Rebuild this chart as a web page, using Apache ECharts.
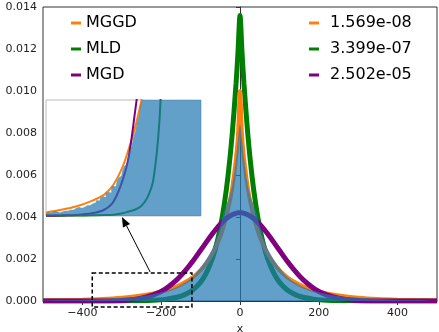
<!DOCTYPE html>
<html>
<head>
<meta charset="utf-8">
<script src="https://cdn.jsdelivr.net/npm/echarts@6/dist/echarts.min.js"></script>
<style>
  html, body { margin: 0; padding: 0; background: #fff; }
  #container { width: 439px; height: 332px; }
</style>
</head>
<body>
<div id="container"></div>
<script>
// sample positions along x for the fitted curves and the histogram outline
var xs = [-500, -450, -400, -350, -300, -260, -220, -190, -160, -140, -120, -100, -85, -70, -60, -50, -40, -30, -20, -10, -5,
          0, 5, 10, 20, 30, 40, 50, 60, 70, 85, 100, 120, 140, 160, 190, 220, 260, 300, 350, 400, 450, 500];

var mggd = [0.000027, 0.000041, 0.000064, 0.0001, 0.00016, 0.00024, 0.00036, 0.0005, 0.0007, 0.00089, 0.00113, 0.00147, 0.00181, 0.00225, 0.00262, 0.00307, 0.00365, 0.00438, 0.00537, 0.00682, 0.0079,
            0.01, 0.0079, 0.00682, 0.00537, 0.00438, 0.00365, 0.00307, 0.00262, 0.00225, 0.00181, 0.00147, 0.00113, 0.00089, 0.0007, 0.0005, 0.00036, 0.00024, 0.00016, 0.0001, 0.000064, 0.000041, 0.000027];

var mld = [0, 0, 0.0000003, 0.000001, 0.000004, 0.000012, 0.000034, 0.000078, 0.000176, 0.000303, 0.00052, 0.0009, 0.00135, 0.00203, 0.00266, 0.0035, 0.00459, 0.00602, 0.0079, 0.01036, 0.01187,
           0.0136, 0.01187, 0.01036, 0.0079, 0.00602, 0.00459, 0.0035, 0.00266, 0.00203, 0.00135, 0.0009, 0.00052, 0.000303, 0.000176, 0.000078, 0.000034, 0.000012, 0.000004, 0.000001, 0.0000003, 0, 0];

var mgd = [0, 0.0000001, 0.0000006, 0.0000047, 0.000029, 0.000099, 0.000288, 0.000568, 0.001017, 0.001418, 0.001891, 0.002414, 0.002814, 0.003201, 0.003441, 0.003657, 0.003844, 0.003996, 0.004108, 0.004177, 0.004199,
           0.0042, 0.004199, 0.004177, 0.004108, 0.003996, 0.003844, 0.003657, 0.003441, 0.003201, 0.002814, 0.002414, 0.001891, 0.001418, 0.001017, 0.000568, 0.000288, 0.000099, 0.000029, 0.0000047, 0.0000006, 0.0000001, 0];

var hist = [0.00002, 0.00003, 0.00005, 0.00009, 0.00015, 0.00022, 0.00032, 0.00046, 0.00067, 0.00087, 0.00116, 0.0016, 0.002, 0.0025, 0.003, 0.0036, 0.0043, 0.0048, 0.0055, 0.0068, 0.0077,
            0.0084, 0.0077, 0.0068, 0.0055, 0.0048, 0.0043, 0.0036, 0.003, 0.0025, 0.002, 0.0016, 0.00116, 0.00087, 0.00067, 0.00046, 0.00032, 0.00022, 0.00015, 0.00009, 0.00005, 0.00003, 0.00002];

// inset (zoom on the left tail)
var insetX    = [-375, -350, -325, -300, -280, -265, -250, -240, -230, -220, -210, -200, -190, -180, -160, -140, -122];
var insetMGGD = [0.00004, 0.00007, 0.00011, 0.00017, 0.00024, 0.00035, 0.00055, 0.00075, 0.00098, 0.00127, 0.0016, 0.002, 0.0025, 0.003, 0.004, 0.005, 0.006];
var insetMLD  = [0.000003, 0.000004, 0.000006, 0.000008, 0.00001, 0.000015, 0.00003, 0.00005, 0.00007, 0.00011, 0.0002, 0.0004, 0.00105, 0.0025, 0.004, 0.005, 0.006];
var insetMGD  = [0.000005, 0.000008, 0.000012, 0.00003, 0.00007, 0.00016, 0.0004, 0.00066, 0.00115, 0.0017, 0.0025, 0.0035, 0.0045, 0.0055, 0.007, 0.008, 0.009];

var insetHistX = [-375, -372, -369, -366, -363, -360, -357, -354, -351, -348, -345, -342, -339, -336, -333, -330, -327, -324, -321, -318,
                  -315, -312, -309, -306, -303, -300, -297, -294, -291, -288, -285, -282, -279, -276, -273, -270, -267, -264, -261, -258,
                  -255, -252, -249, -246, -243, -240, -237, -234, -231, -228, -225, -222, -219, -216, -213, -210, -200, -180, -150, -122];
var insetHist = [0.00003, 0.00004, 0.00003, 0.00004, 0.00005, 0.00004, 0.00005, 0.00004, 0.00006, 0.00005, 0.00006, 0.00007, 0.00006, 0.00007, 0.00008, 0.00007, 0.00009, 0.00008, 0.0001, 0.00009,
                 0.00011, 0.0001, 0.00012, 0.00013, 0.00012, 0.00014, 0.00016, 0.00015, 0.00018, 0.00017, 0.0002, 0.00022, 0.00021, 0.00025, 0.00027, 0.00026, 0.00031, 0.00034, 0.00033, 0.00039,
                 0.00043, 0.00045, 0.00051, 0.00056, 0.00058, 0.00067, 0.00073, 0.00078, 0.00088, 0.00094, 0.00104, 0.00112, 0.00124, 0.00131, 0.00145, 0.002, 0.002, 0.002, 0.002, 0.002];

var names  = ['MGGD', 'MLD', 'MGD'];
var scores = ['1.569e-08', '3.399e-07', '2.502e-05'];
var xTicks = [-400, -200, 0, 200, 400];

// annotation: dashed box on the main axes and the arrow to the inset
var boxX = [-375, -122];
var boxY = [-0.00029, 0.00133];
var arrowFrom = [-228, 0.00138];   // main axes
var arrowTo   = [-251, -0.00001];  // inset axes

function pairs(x, y) {
  return x.map(function (v, i) { return [v, y[i]]; });
}

var dom = document.getElementById('container');
var myChart = echarts.init(dom, null, { renderer: 'canvas' });

function curve(name, x, y, color, width, axis, z) {
  return {
    name: name, type: 'line', xAxisIndex: axis, yAxisIndex: axis,
    data: pairs(x, y), showSymbol: false, smooth: 0.3,
    lineStyle: { color: color, width: width },
    itemStyle: { color: color }, z: z, silent: true
  };
}

var legendBase = {
  orient: 'vertical', top: 9, icon: 'rect', itemWidth: 10, itemHeight: 3, itemGap: 8,
  selectedMode: false, data: names,
  textStyle: { fontSize: 16, lineHeight: 18, color: '#000', fontFamily: 'DejaVu Sans' }
};

var option = {
  animation: false,
  textStyle: { fontFamily: 'DejaVu Sans' },
  grid: [
    { left: 43, right: 2, top: 7, bottom: 31, outerBoundsMode: 'none', show: true, borderColor: '#333', borderWidth: 1, backgroundColor: '#fff' },
    { left: 46, top: 100, width: 155, height: 116, outerBoundsMode: 'none', show: true, borderColor: '#bbb', borderWidth: 1, backgroundColor: '#fff' }
  ],
  legend: [
    Object.assign({}, legendBase, { left: 66 }),
    Object.assign({}, legendBase, {
      left: 304,
      textStyle: Object.assign({}, legendBase.textStyle, { padding: [0, 0, 0, 6] }),
      formatter: function (n) { return scores[names.indexOf(n)]; }
    })
  ],
  xAxis: [
    {
      type: 'value', gridIndex: 0, min: -500, max: 500,
      name: 'x', nameLocation: 'middle', nameGap: 19,
      nameTextStyle: { fontSize: 11, color: '#222' },
      splitLine: { show: false },
      axisLine: { show: true, onZero: false, lineStyle: { color: '#333' } },
      axisTick: { show: true, length: 4, customValues: xTicks, lineStyle: { color: '#333' } },
      axisLabel: {
        customValues: xTicks, fontSize: 11, color: '#222', margin: 7,
        formatter: function (v) { return String(v).replace('-', '\u2212'); }
      }
    },
    { type: 'value', gridIndex: 1, min: -375, max: -122, show: false }
  ],
  yAxis: [
    {
      type: 'value', gridIndex: 0, min: 0, max: 0.014, interval: 0.002,
      splitLine: { show: false },
      axisLine: { show: true, lineStyle: { color: '#333' } },
      axisTick: { show: true, length: 4, lineStyle: { color: '#333' } },
      axisLabel: { fontSize: 11, color: '#222', margin: 6, formatter: function (v) { return v.toFixed(3); } }
    },
    { type: 'value', gridIndex: 1, min: 0, max: 0.0013, show: false }
  ],
  series: [
    curve('MLD', xs, mld, 'green', 5, 0, 2),
    curve('MGGD', xs, mggd, '#ff7f0e', 4, 0, 3),
    curve('MGD', xs, mgd, 'purple', 5, 0, 4),
    {
      name: 'hist', type: 'line', xAxisIndex: 0, yAxisIndex: 0,
      data: pairs(xs, hist), showSymbol: false, smooth: 0.3,
      lineStyle: { width: 0 }, areaStyle: { color: '#1f77b4', opacity: 0.7 }, z: 5, silent: true
    },
    curve('MLD inset', insetX, insetMLD, 'green', 2, 1, 6),
    curve('MGGD inset', insetX, insetMGGD, '#ff7f0e', 2, 1, 7),
    curve('MGD inset', insetX, insetMGD, 'purple', 2, 1, 7),
    {
      name: 'hist inset', type: 'line', xAxisIndex: 1, yAxisIndex: 1, step: 'middle',
      data: pairs(insetHistX, insetHist), showSymbol: false, clip: true,
      lineStyle: { width: 0 }, areaStyle: { color: '#1f77b4', opacity: 0.7 }, z: 8, silent: true
    }
  ]
};

myChart.setOption(option);

// dashed zoom box and arrow, placed through the axes' own scales
var m = { xAxisIndex: 0, yAxisIndex: 0 };
var p1 = myChart.convertToPixel(m, [boxX[0], boxY[1]]);
var p2 = myChart.convertToPixel(m, [boxX[1], boxY[0]]);
var s = myChart.convertToPixel(m, arrowFrom);
var t = myChart.convertToPixel({ xAxisIndex: 1, yAxisIndex: 1 }, arrowTo);
var dx = t[0] - s[0], dy = t[1] - s[1];
var len = Math.sqrt(dx * dx + dy * dy);
var ux = dx / len, uy = dy / len;
var headL = 10, headW = 4;
var bx = t[0] - ux * headL, by = t[1] - uy * headL;

myChart.setOption({
  graphic: [
    {
      type: 'rect', z: 100, silent: true,
      shape: { x: p1[0], y: p1[1], width: p2[0] - p1[0], height: p2[1] - p1[1] },
      style: { fill: 'none', stroke: '#000', lineWidth: 1.5, lineDash: [4, 2.5] }
    },
    {
      type: 'line', z: 100, silent: true,
      shape: { x1: s[0], y1: s[1], x2: bx, y2: by },
      style: { stroke: '#000', lineWidth: 1 }
    },
    {
      type: 'polygon', z: 100, silent: true,
      shape: { points: [[t[0], t[1]], [bx - uy * headW, by + ux * headW], [bx + uy * headW, by - ux * headW]] },
      style: { fill: '#000' }
    }
  ]
});

window.addEventListener('resize', myChart.resize);
</script>
</body>
</html>
